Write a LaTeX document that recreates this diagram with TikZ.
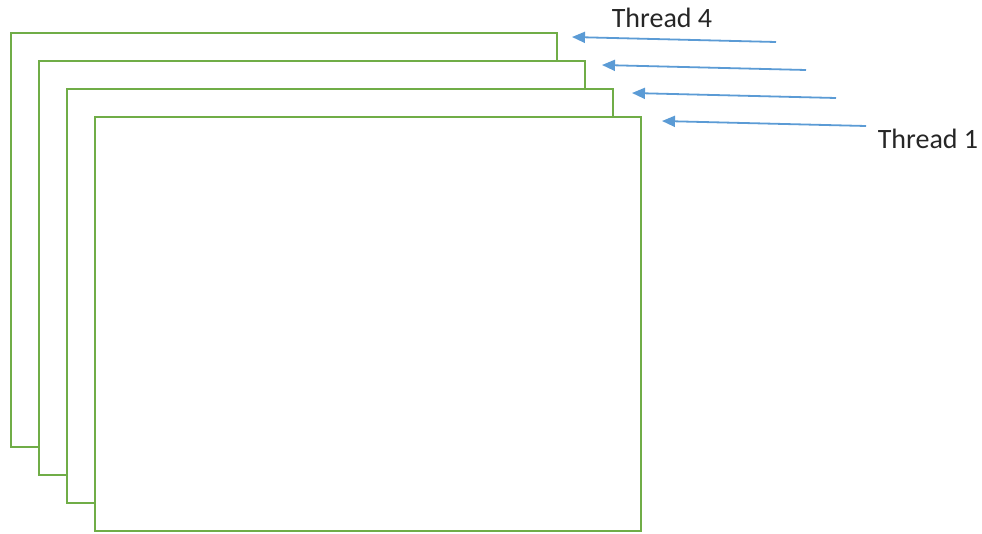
\documentclass[tikz,border=0pt]{standalone}
\usepackage{fontspec}
\setmainfont{Carlito}
\usetikzlibrary{arrows.meta}
\definecolor{frgreen}{RGB}{112,173,71}
\definecolor{thblue}{RGB}{91,155,213}
\begin{document}
\begin{tikzpicture}[x=1pt,y=-1pt,
  frame/.style={draw=frgreen,line width=2pt,fill=white,minimum width=546pt,minimum height=414pt,inner sep=0pt,anchor=north west},
  thread/.style={draw=thblue,line width=1.8pt,-{Triangle[length=13pt,width=11pt]}},
  lbl/.style={font=\fontsize{28}{32}\selectfont,text=black!85,inner sep=0pt}]
\useasboundingbox (0,0) rectangle (982,533);
\node[frame] (f4) at (10,32) {};
\node[frame] (f3) at (38,60) {};
\node[frame] (f2) at (66,88) {};
\node[frame] (f1) at (94,116) {};
\coordinate (s4) at (776,42); \coordinate (e4) at (572,37);
\coordinate (s3) at (806,70); \coordinate (e3) at (602,65);
\coordinate (s2) at (836,98); \coordinate (e2) at (632,93);
\coordinate (s1) at (866,126); \coordinate (e1) at (662,121);
\draw[thread] (s4) -- (e4);
\draw[thread] (s3) -- (e3);
\draw[thread] (s2) -- (e2);
\draw[thread] (s1) -- (e1);
\node[lbl] (t4) at (662,18) {Thread 4};
\node[lbl] (t1) at (928,139) {Thread 1};
\end{tikzpicture}
\end{document}
